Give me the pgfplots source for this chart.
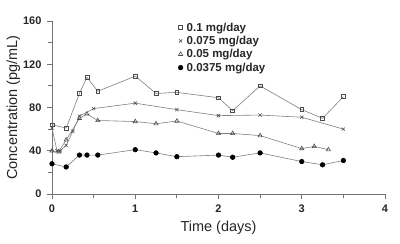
\documentclass[border=0pt]{standalone}
\usepackage{pgfplots}
\pgfplotsset{compat=1.18}
\usepackage{fontspec}
\setmainfont{Liberation Sans}
\usetikzlibrary{calc}
\definecolor{axcol}{gray}{0.45}
\definecolor{lncol}{gray}{0.5}
\definecolor{mkcol}{gray}{0.3}
\begin{document}
\begin{tikzpicture}
\begin{axis}[
  scale only axis, width=333pt, height=173pt,
  xmin=0, xmax=4, ymin=0, ymax=160,
  axis lines=left, axis line style={axcol, line width=0.8pt, -},
  xtick={0,1,2,3,4}, minor xtick={0.5,1.5,2.5,3.5},
  ytick={0,40,80,120,160}, minor ytick={20,60,100,140},
  tick align=outside, major tick length=5pt, minor tick length=4pt,
  tick style={axcol, line width=0.8pt},
  /pgf/number format/assume math mode=true,
  ticklabel style={font=\fontsize{11}{13}\selectfont\bfseries, text=black!85},
  xticklabel style={yshift=-2pt},
  yticklabel style={xshift=-2pt},
  xlabel={Time (days)}, ylabel={Concentration (pg/mL)},
  label style={font=\fontsize{14.5}{16}\selectfont, text=black!85},
  xlabel style={yshift=-2pt},
  ylabel style={yshift=-4pt},
  clip=false,
  legend style={draw=none, fill=none, at={(0.372,1.0)}, anchor=north west,
    font=\fontsize{11.5}{13}\selectfont\bfseries, text=black!85,
    row sep=0.5pt, inner sep=0pt, nodes={inner sep=1.5pt}},
  legend cell align=left,
  legend image code/.code={\path (0cm,0cm) (0.3cm,0cm);
    \draw[#1] plot[only marks] coordinates {(0.15cm,0cm)};},
  every axis plot/.append style={lncol, line width=0.6pt},
]
\addplot[mark=square, mark size=1.9pt, mark options={mkcol, fill=white, line width=0.6pt}] coordinates {
 (0,64) (0.17,61) (0.33,93) (0.42,108) (0.55,95) (1.0,109) (1.25,93) (1.5,94)
 (2.0,89) (2.17,77) (2.5,100) (3.0,78) (3.25,70) (3.5,90)};
\addplot[mark=x, mark size=2.3pt, mark options={mkcol, line width=0.6pt}] coordinates {
 (0,61) (0.06,40) (0.1,40) (0.17,45) (0.25,58) (0.33,72) (0.5,79) (1.0,84)
 (1.5,78) (2.0,72.5) (2.5,73) (3.0,71) (3.5,60)};
\addplot[mark=triangle, mark size=2.4pt, mark options={mkcol, fill=white, line width=0.6pt}] coordinates {
 (0,40) (0.08,39) (0.17,50) (0.33,70) (0.42,74) (0.55,68) (1.0,67) (1.25,65)
 (1.5,67.5) (2.0,56) (2.17,56) (2.5,54) (3.0,42) (3.15,44) (3.32,41)};
\addplot[mark=*, mark size=2.3pt, mark options={black, fill=black}] coordinates {
 (0,28) (0.17,25) (0.33,36) (0.42,36) (0.55,36) (1.0,41) (1.25,38) (1.5,34.5)
 (2.0,36) (2.17,34) (2.5,38) (3.0,30) (3.25,27) (3.5,31)};
\legend{0.1 mg/day, 0.075 mg/day, 0.05 mg/day, 0.0375 mg/day}
\end{axis}
\pgfresetboundingbox
\useasboundingbox ($(current axis.south west)+(-52pt,-49pt)$) rectangle ($(current axis.north east)+(15pt,21pt)$);
\end{tikzpicture}
\end{document}
